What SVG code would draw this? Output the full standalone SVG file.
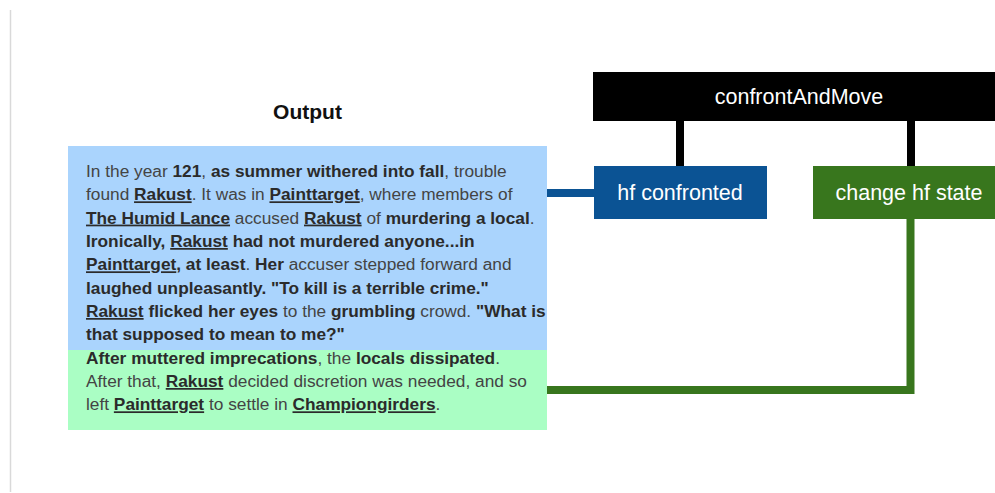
<svg xmlns="http://www.w3.org/2000/svg" width="995" height="493" viewBox="0 0 995 493">
<style>
.body{font-family:"Liberation Sans",Arial,sans-serif;font-size:17.3px;fill:#444444}
.b{font-weight:bold;fill:#2b2b2b}
.u{font-weight:bold;fill:#2b2b2b;text-decoration:underline}
.lbl{font-family:"Liberation Sans",Arial,sans-serif;font-size:21.5px;fill:#ffffff;text-anchor:middle}
</style>
<rect width="995" height="493" fill="#ffffff"/>
<line x1="10.5" y1="10" x2="10.5" y2="492" stroke="#d9d9d9" stroke-width="1.5"/>
<text x="307.5" y="119" font-family="Liberation Sans,Arial,sans-serif" font-size="21" font-weight="bold" fill="#111" text-anchor="middle">Output</text>
<g id="connectors" fill="none">
<line x1="680" y1="121" x2="680" y2="166" stroke="#000000" stroke-width="8"/>
<line x1="911" y1="121" x2="911" y2="166" stroke="#000000" stroke-width="8"/>
<line x1="547" y1="193" x2="594" y2="193" stroke="#0b5394" stroke-width="8"/>
<polyline points="910.5,219 910.5,390 547,390" stroke="#38761d" stroke-width="8" stroke-linejoin="miter"/>
</g>
<g id="output-text">
<rect x="68" y="146" width="479" height="204" fill="#aad4fd"/>
<rect x="68" y="350" width="479" height="80" fill="#aafec4"/>
<text class="body">
<tspan x="86" y="177">In the year <tspan class="b">121</tspan>, <tspan class="b">as summer withered into fall</tspan>, trouble</tspan>
<tspan x="86" y="200.3">found <tspan class="u">Rakust</tspan>. It was in <tspan class="u">Painttarget</tspan>, where members of</tspan>
<tspan x="86" y="223.6"><tspan class="u">The Humid Lance</tspan> accused <tspan class="u">Rakust</tspan> of <tspan class="b">murdering a local</tspan>.</tspan>
<tspan x="86" y="247"><tspan class="b">Ironically, </tspan><tspan class="u">Rakust</tspan><tspan class="b"> had not murdered anyone...in</tspan></tspan>
<tspan x="86" y="270.3"><tspan class="u">Painttarget</tspan><tspan class="b">, at least</tspan>. <tspan class="b">Her</tspan> accuser stepped forward and</tspan>
<tspan x="86" y="293.6"><tspan class="b">laughed unpleasantly. "To kill is a terrible crime."</tspan></tspan>
<tspan x="86" y="317"><tspan class="u">Rakust</tspan><tspan class="b"> flicked her eyes</tspan> to the <tspan class="b">grumbling</tspan> crowd. <tspan class="b">"What is</tspan></tspan>
<tspan x="86" y="340.3"><tspan class="b">that supposed to mean to me?"</tspan></tspan>
<tspan x="86" y="363.6"><tspan class="b">After muttered imprecations</tspan>, the <tspan class="b">locals dissipated</tspan>.</tspan>
<tspan x="86" y="387">After that, <tspan class="u">Rakust</tspan> decided discretion was needed, and so</tspan>
<tspan x="86" y="410.3">left <tspan class="u">Painttarget</tspan> to settle in <tspan class="u">Championgirders</tspan>.</tspan>
</text>
</g>
<g id="confrontAndMove">
<rect x="593" y="72" width="410" height="49" fill="#000000"/>
<text class="lbl" x="799" y="103.5">confrontAndMove</text>
</g>
<g id="hf-confronted">
<rect x="594" y="166" width="173" height="53" fill="#0b5394"/>
<text class="lbl" x="680" y="199.5">hf confronted</text>
</g>
<g id="change-hf-state">
<rect x="813" y="166" width="190" height="53" fill="#38761d"/>
<text class="lbl" x="909" y="199.5">change hf state</text>
</g>
</svg>
